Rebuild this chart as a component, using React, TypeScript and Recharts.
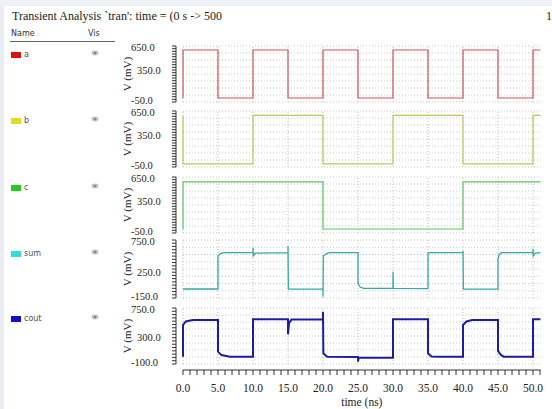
import React from 'react';
import { LineChart, Line, XAxis, YAxis, ReferenceLine } from 'recharts';

// ---------- data (time in ns, voltage in mV) ----------
const aData = [
  { t: 0, v: 0 }, { t: 0, v: 600 }, { t: 5, v: 600 }, { t: 5, v: 0 }, { t: 10, v: 0 }, { t: 10, v: 600 },
  { t: 15, v: 600 }, { t: 15, v: 0 }, { t: 20, v: 0 }, { t: 20, v: 600 }, { t: 25, v: 600 }, { t: 25, v: 0 },
  { t: 30, v: 0 }, { t: 30, v: 600 }, { t: 35, v: 600 }, { t: 35, v: 0 }, { t: 40, v: 0 }, { t: 40, v: 600 },
  { t: 45, v: 600 }, { t: 45, v: 0 }, { t: 50, v: 0 }, { t: 50, v: 600 }, { t: 51.1, v: 600 },
];
const bData = [
  { t: 0, v: 595 }, { t: 0, v: -10 }, { t: 10, v: -10 }, { t: 10, v: 595 }, { t: 20, v: 595 }, { t: 20, v: -10 },
  { t: 30, v: -10 }, { t: 30, v: 595 }, { t: 40, v: 595 }, { t: 40, v: -10 }, { t: 50, v: -10 }, { t: 50, v: 595 },
  { t: 51.1, v: 595 },
];
const cData = [
  { t: 0, v: 0 }, { t: 0, v: 590 }, { t: 20, v: 590 }, { t: 20, v: 0 }, { t: 40, v: 0 }, { t: 40, v: 590 },
  { t: 51.1, v: 590 },
];
const sumData = [
  { t: 0, v: -10 }, { t: 5, v: -10 }, { t: 5, v: 500 }, { t: 5.3, v: 535 }, { t: 5.8, v: 553 },
  { t: 10, v: 553 }, { t: 10, v: 626 }, { t: 10.05, v: 502 }, { t: 10.3, v: 545 }, { t: 15, v: 555 },
  { t: 15, v: 657 }, { t: 15.05, v: -12 }, { t: 20, v: -12 }, { t: 20, v: -130 }, { t: 20.05, v: 502 },
  { t: 20.5, v: 540 }, { t: 21, v: 553 }, { t: 25, v: 553 }, { t: 25, v: 78 }, { t: 25.3, v: 20 },
  { t: 25.8, v: 0 }, { t: 30, v: 0 }, { t: 30, v: 258 }, { t: 30.05, v: -2 }, { t: 35, v: -5 },
  { t: 35, v: 553 }, { t: 40, v: 553 }, { t: 40, v: 584 }, { t: 40.05, v: -12 }, { t: 45, v: -12 },
  { t: 45, v: 466 }, { t: 45.2, v: 530 }, { t: 45.5, v: 553 }, { t: 50, v: 553 }, { t: 50, v: 615 },
  { t: 50.05, v: 502 }, { t: 50.3, v: 548 }, { t: 51.1, v: 553 },
];
const coutData = [
  { t: 0, v: 11 }, { t: 0, v: 492 }, { t: 0.4, v: 545 }, { t: 1.4, v: 568 }, { t: 5, v: 568 },
  { t: 5, v: 87 }, { t: 5.5, v: 35 }, { t: 6.7, v: 11 }, { t: 10, v: 11 }, { t: 10, v: 578 },
  { t: 15, v: 578 }, { t: 15, v: 351 }, { t: 15.15, v: 520 }, { t: 15.5, v: 575 }, { t: 20, v: 578 },
  { t: 20, v: 694 }, { t: 20.05, v: 62 }, { t: 20.6, v: 11 }, { t: 25, v: 5 }, { t: 25, v: -65 },
  { t: 25.1, v: 0 }, { t: 30, v: -4 }, { t: 30, v: 578 }, { t: 35, v: 578 }, { t: 35, v: 62 },
  { t: 35.5, v: 15 }, { t: 36.5, v: 11 }, { t: 40, v: 11 }, { t: 40, v: 492 }, { t: 40.5, v: 545 },
  { t: 41.3, v: 568 }, { t: 45, v: 568 }, { t: 45, v: 100 }, { t: 45.4, v: 40 }, { t: 45.8, v: 11 },
  { t: 50, v: 11 }, { t: 50, v: 578 }, { t: 51.1, v: 578 },
];

// tick labels
const abcMajorTicks = [-50, 350, 650];
const sumMajorTicks = [-150, 250, 750];
const coutMajorTicks = [-100, 300, 750];
const xMajorTicks = [0, 5, 10, 15, 20, 25, 30, 35, 40, 45, 50];
const xMinorTicks = Array.from({ length: 52 }, (_, i) => i);
const timeGrid = [0, 5, 10, 15, 20, 25, 30, 35, 40, 45, 50];

// ---------- layout ----------
const W = 552;
const RIGHT = 11.3;
const YAXIS_W = 176;
const T_END = 51.1;
const SERIF = '"Liberation Serif", "Times New Roman", serif';
const SANS = '"DejaVu Sans", "Noto Sans", sans-serif';
const PAD = 10;
const TICK_FONT = 10.5;

function buildTicks(lo: number, hi: number, step: number) {
  const out: number[] = [];
  const n = Math.round((hi - lo) / step);
  for (let i = 0; i <= n; i++) out.push(lo + i * step);
  return out;
}
function buildGrid(lo: number, hi: number, n: number) {
  const out: number[] = [];
  for (let i = 0; i <= n; i++) out.push(lo + ((hi - lo) * i) / n);
  return out;
}

type PanelProps = {
  data: { t: number; v: number }[];
  color: string;
  width: number;
  domain: [number, number];
  majors: number[];
  step: number;
  top: number;
  height: number;
  name: string;
  swatch: string;
  legendTop: number;
};

function Panel(p: PanelProps) {
  const ticks = buildTicks(p.domain[0], p.domain[1], p.step);
  const grid = buildGrid(p.domain[0], p.domain[1], 8);
  const YTick = (props: any) => {
    const { y, payload } = props;
    const v = payload.value;
    const idx = p.majors.findIndex((m) => Math.abs(m - v) < 1e-6);
    if (idx < 0) return <g />;
    const shift = idx === 0 ? -1.5 : idx === 2 ? 1 : 0;
    return (
      <text x={idx === 1 ? 137 : 131} y={y + shift} dy="0.36em" textAnchor="start" fontFamily={SERIF} fontSize={TICK_FONT} fill="#222">
        {v.toFixed(1)}
      </text>
    );
  };
  const YLabel = (props: any) => {
    const vb = props.viewBox;
    const cy = vb.y + vb.height / 2;
    return (
      <text x={127} y={cy} transform={`rotate(-90 127 ${cy})`} textAnchor="middle" dominantBaseline="central" fontFamily={SERIF} fontSize={11} fill="#222">
        V (mV)
      </text>
    );
  };
  return (
    <>
      <div style={{ position: 'absolute', left: 11, top: p.legendTop, display: 'flex', alignItems: 'center', width: 110 }}>
        <div style={{ width: 10, height: 6, background: p.swatch }} />
        <div style={{ marginLeft: 3, fontFamily: SANS, fontSize: 8, color: '#555' }}>{p.name}</div>
      </div>
      <svg style={{ position: 'absolute', left: 91, top: p.legendTop }} width={8} height={6}>
        <ellipse cx={4} cy={3} rx={3.5} ry={2.4} fill="#c4c4c4" />
        <circle cx={4} cy={3} r={1.3} fill="#8a8a8a" />
      </svg>
      <div style={{ position: 'absolute', left: 0, top: p.top - PAD }}>
        <LineChart width={W} height={p.height + 2 * PAD} data={p.data} margin={{ top: PAD, right: RIGHT, bottom: PAD, left: 0 }}>
          <XAxis type="number" dataKey="t" domain={[-1, T_END]} hide allowDataOverflow />
          <YAxis
            type="number"
            domain={p.domain}
            ticks={ticks}
            interval={0}
            width={YAXIS_W}
            tickSize={4}
            tick={<YTick />}
            axisLine={{ stroke: '#333' }}
            tickLine={{ stroke: '#333' }}
            allowDataOverflow
            label={<YLabel />}
          />
          {timeGrid.map((g) => (
            <ReferenceLine key={'x' + g} x={g} stroke="#bdbdbd" strokeDasharray="1 2" />
          ))}
          {grid.map((g) => (
            <ReferenceLine key={'y' + g} segment={[{ x: 0, y: g }, { x: T_END, y: g }]} stroke="#c8c8c8" strokeDasharray="1 2" />
          ))}
          <Line type="linear" dataKey="v" stroke={p.color} strokeWidth={p.width} dot={false} isAnimationActive={false} />
        </LineChart>
      </div>
    </>
  );
}

const XTick = (props: any) => {
  const { x, y, payload } = props;
  const v = payload.value;
  if (!xMajorTicks.includes(v)) return <g />;
  return (
    <text x={x} y={y + 15} textAnchor="middle" fontFamily={SERIF} fontSize={11.5} fill="#222">
      {v.toFixed(1)}
    </text>
  );
};

export default function App() {
  return (
    <div style={{ position: 'absolute', left: 0, top: 0, width: W, height: 409, background: '#fff', overflow: 'hidden' }}>
      <div style={{ position: 'absolute', left: 0, top: 0, width: W, height: 6, background: '#eef1f5' }} />
      <div style={{ position: 'absolute', left: 0, top: 6, width: 4, height: 403, background: '#e9edf2' }} />
      <div style={{ position: 'absolute', left: 12, top: 9, fontFamily: SERIF, fontSize: 12, color: '#222', whiteSpace: 'nowrap' }}>
        Transient Analysis `tran': time = (0 s -&gt; 500
      </div>
      <div style={{ position: 'absolute', left: 546, top: 9, fontFamily: SERIF, fontSize: 12, color: '#222' }}>1</div>
      <div style={{ position: 'absolute', left: 11, top: 29, fontFamily: SANS, fontSize: 8, color: '#333' }}>Name</div>
      <div style={{ position: 'absolute', left: 88, top: 29, fontFamily: SANS, fontSize: 8, color: '#333' }}>Vis</div>
      <div style={{ position: 'absolute', left: 10, top: 41, width: 105, height: 1, background: '#666' }} />

      <Panel data={aData} color="#d0505c" width={1.2} domain={[-50, 650]} majors={abcMajorTicks} step={100 / 3} top={46} height={56} name="a" swatch="#dd1111" legendTop={50} />
      <Panel data={bData} color="#c2c456" width={1.2} domain={[-50, 650]} majors={abcMajorTicks} step={100 / 3} top={111} height={56} name="b" swatch="#dddd22" legendTop={116} />
      <Panel data={cData} color="#5fc45f" width={1.2} domain={[-50, 650]} majors={abcMajorTicks} step={100 / 3} top={177} height={56} name="c" swatch="#22cc22" legendTop={183} />
      <Panel data={sumData} color="#36a8a8" width={1.3} domain={[-150, 750]} majors={sumMajorTicks} step={50} top={240} height={58} name="sum" swatch="#33dddd" legendTop={249} />
      <Panel data={coutData} color="#1c1ca6" width={2} domain={[-100, 750]} majors={coutMajorTicks} step={50} top={308} height={56} name="cout" swatch="#1111cc" legendTop={314} />

      <div style={{ position: 'absolute', left: 0, top: 365 }}>
        <LineChart width={W} height={44} data={coutData} margin={{ top: 0, right: RIGHT, bottom: 0, left: 183 }}>
          <XAxis
            type="number"
            dataKey="t"
            domain={[0, T_END]}
            ticks={xMinorTicks}
            interval={0}
            height={39}
            tickSize={5}
            tick={<XTick />}
            axisLine={{ stroke: '#333' }}
            tickLine={{ stroke: '#333' }}
            allowDataOverflow
            label={{ value: 'time (ns)', position: 'insideBottom', offset: 3, fontFamily: SERIF, fontSize: 11.5, fill: '#222' }}
          />
        </LineChart>
      </div>
    </div>
  );
}
